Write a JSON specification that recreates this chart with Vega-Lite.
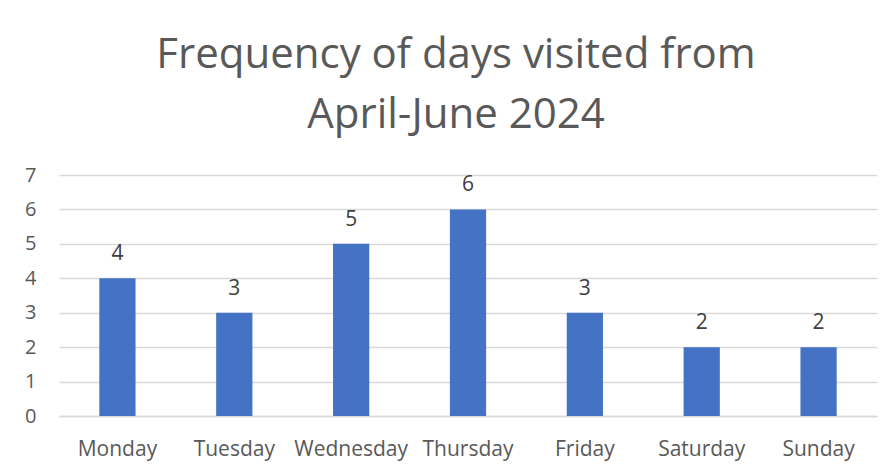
{
  "$schema": "https://vega.github.io/schema/vega-lite/v6.json",
  "autosize": {"type": "none"},
  "width": 818,
  "height": 241,
  "padding": {"left": 59, "top": 175, "right": 18, "bottom": 57},
  "background": "white",
  "title": {
    "text": ["Frequency of days visited from", "April-June 2024"],
    "font": "Open Sans",
    "fontSize": 42,
    "fontWeight": "normal",
    "color": "#595959",
    "lineHeight": 60,
    "anchor": "middle",
    "dx": -12,
    "offset": 28
  },
  "data": {
    "values": [
      {"day": "Monday", "count": 4},
      {"day": "Tuesday", "count": 3},
      {"day": "Wednesday", "count": 5},
      {"day": "Thursday", "count": 6},
      {"day": "Friday", "count": 3},
      {"day": "Saturday", "count": 2},
      {"day": "Sunday", "count": 2}
    ]
  },
  "encoding": {
    "x": {
      "field": "day",
      "type": "nominal",
      "sort": null,
      "scale": {"paddingInner": 0.69, "paddingOuter": 0.345},
      "axis": {
        "title": null,
        "labelAngle": 0,
        "labelFont": "Open Sans",
        "labelFontSize": 21,
        "labelColor": "#595959",
        "labelBaseline": "alphabetic",
        "labelPadding": 39,
        "ticks": false,
        "domainColor": "#d9d9d9",
        "domainWidth": 1.5,
        "grid": false
      }
    },
    "y": {
      "field": "count",
      "type": "quantitative",
      "scale": {"domain": [0, 7], "nice": false},
      "axis": {
        "title": null,
        "values": [0, 1, 2, 3, 4, 5, 6, 7],
        "labelFont": "Open Sans",
        "labelFontSize": 20,
        "labelColor": "#595959",
        "labelPadding": 23,
        "ticks": false,
        "domain": false,
        "gridColor": "#d9d9d9",
        "gridWidth": 1.5
      }
    }
  },
  "layer": [
    {"mark": {"type": "bar", "color": "#4472C4"}},
    {
      "mark": {"type": "text", "font": "Open Sans", "fontSize": 21, "color": "#404040", "baseline": "alphabetic", "dy": -18},
      "encoding": {"text": {"field": "count", "type": "quantitative"}}
    }
  ],
  "config": {"view": {"stroke": null}}
}
